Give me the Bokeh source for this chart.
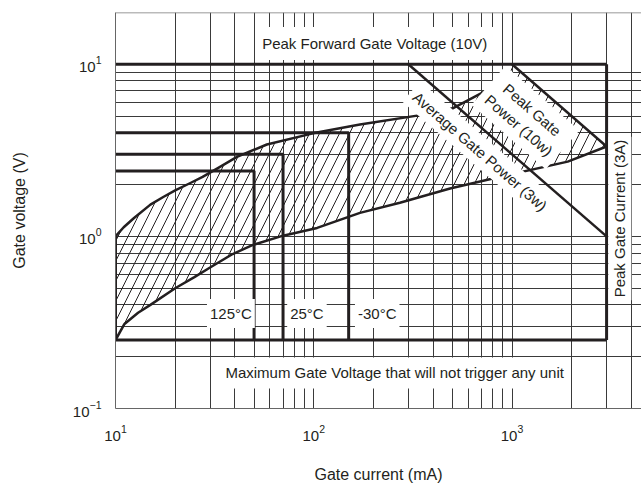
import math
from bokeh.plotting import figure
from bokeh.models import Range1d, FixedTicker, Label, Span
from bokeh.embed import file_html
from bokeh.resources import INLINE

# ---- data ----
x_ticks = [10, 100, 1000]
y_ticks = [0.1, 1, 10]
x_grid = [20, 30, 40, 50, 60, 70, 80, 90, 100, 200, 300, 400, 500, 600, 700, 800, 900,
          1000, 2000, 3000, 4000]
y_grid = [0.2, 0.3, 0.4, 0.5, 0.6, 0.7, 0.8, 0.9, 1, 2, 3, 4, 5, 6, 7, 8, 9]

# upper / lower trigger curves (mA, V)
upper_i = [10, 11, 12.4, 15, 17.5, 20, 24, 27.5, 33, 41, 58, 99, 171, 358, 502, 729]
upper_v = [1.0, 1.13, 1.28, 1.53, 1.7, 1.85, 2.05, 2.22, 2.5, 2.9, 3.42, 3.97, 4.47, 5.1, 5.55, 6.96]
lower_i = [10, 11.1, 13, 15, 20, 25, 30, 39, 49, 70, 104, 171, 272, 487, 842, 1910, 3000]
lower_v = [0.25, 0.31, 0.36, 0.40, 0.50, 0.58, 0.66, 0.79, 0.89, 1.01, 1.12, 1.37, 1.57, 1.90, 2.20, 2.72, 3.33]

# power lines
avg_i = [300, 3000]
avg_v = [10, 1.0]
peak_i = [1000, 3000]
peak_v = [10, 3.33]

# limits
i_min = 10
i_max = 3000          # peak gate current 3A
v_fwd = 10            # peak forward gate voltage
v_min = 0.25          # max gate voltage that will not trigger
v_left_top = 1.0

# temperature boxes
temp_i = [50, 70, 150]
temp_v = [2.4, 3.0, 4.0]
temp_labels = ["125°C", "25°C", "-30°C"]

INK = "#231f20"
FONT = "Liberation Sans"

p = figure(width=641, height=491, x_axis_type="log", y_axis_type="log",
           x_range=Range1d(10, 4500), y_range=Range1d(0.1, 20),
           output_backend="svg", toolbar_location=None,
           min_border_left=115, min_border_right=0, min_border_top=12, min_border_bottom=83)
p.outline_line_color = None
p.background_fill_color = "white"

# grid
p.xgrid.ticker = FixedTicker(ticks=x_grid)
p.ygrid.ticker = FixedTicker(ticks=y_grid)
p.xgrid.grid_line_color = "#3a3a3a"
p.ygrid.grid_line_color = "#3a3a3a"
p.xgrid.grid_line_width = 1
p.ygrid.grid_line_width = 1

# axes
p.xaxis.ticker = FixedTicker(ticks=x_ticks)
p.yaxis.ticker = FixedTicker(ticks=y_ticks)
for ax in (p.xaxis[0], p.yaxis[0]):
    ax.major_tick_line_color = None
    ax.minor_tick_line_color = None
    ax.axis_line_color = "#666666"
    ax.major_label_text_font = FONT
    ax.major_label_text_font_size = "15px"
    ax.major_label_text_color = INK
    ax.axis_label_text_font = FONT
    ax.axis_label_text_font_size = "16px"
    ax.axis_label_text_font_style = "normal"
    ax.axis_label_text_color = INK
p.xaxis.axis_label = "Gate current (mA)"
p.yaxis.axis_label = "Gate voltage (V)"
p.xaxis.major_label_standoff = 10
p.yaxis.major_label_standoff = 8
p.xaxis.axis_label_standoff = 22
p.yaxis.axis_label_standoff = 42

p.add_layout(Span(location=20, dimension="width", line_color="#777777", line_width=1.5))

# hatched trigger region
poly_i = [lower_i[0]] + upper_i + [peak_i[0]] + lower_i[::-1]
poly_v = [lower_v[0]] + upper_v + [peak_v[0]] + lower_v[::-1]
p.patch(poly_i, poly_v, fill_color=None, line_color=None,
        hatch_pattern="/", hatch_color=INK, hatch_scale=20, hatch_weight=1)

# thick boundary lines
xs = [[i_min, i_max], [i_min, i_max], [i_max, i_max], [i_min, i_min]]
ys = [[v_fwd, v_fwd], [v_min, v_min], [v_min, v_fwd], [v_min, v_left_top]]
for ti, tv in zip(temp_i, temp_v):
    xs.append([i_min, ti, ti])
    ys.append([tv, tv, v_min])
p.multi_line(xs, ys, line_color=INK, line_width=3)

# curves
p.line(upper_i, upper_v, line_color=INK, line_width=2.5, line_join="round")
p.line(lower_i, lower_v, line_color=INK, line_width=2.5, line_join="round")
p.line(avg_i, avg_v, line_color=INK, line_width=2.5)
p.line(peak_i, peak_v, line_color=INK, line_width=2.5)


def lab(x, y, text, angle=0.0, pad=4, size="15px"):
    p.add_layout(Label(x=x, y=y, text=text, angle=angle, text_align="center",
                       text_baseline="middle", text_font=FONT, text_font_size=size,
                       text_color=INK, background_fill_color="white", padding=pad))


lab(203, 13.2, "Peak Forward Gate Voltage (10V)", pad=dict(left=6, right=6, top=8, bottom=8))
lab(256, 0.161, "Maximum Gate Voltage that will not trigger any unit",
    pad=dict(left=6, right=6, top=7, bottom=7))
for ti, tx in zip(temp_labels, [38.2, 92.4, 209]):
    lab(tx, 0.356, ti, pad=dict(left=3, right=3, top=6, bottom=6))
lab(690, 3.12, "Average Gate Power (3w)", angle=-math.radians(41), pad=5)
lab(1170, 4.9, "Peak Gate\nPower (10w)", angle=-math.radians(41), pad=7)
lab(3500, 1.27, "Peak Gate Current (3A)", angle=math.pi / 2, pad=3)

open("out.html", "w").write(file_html(p, INLINE))
